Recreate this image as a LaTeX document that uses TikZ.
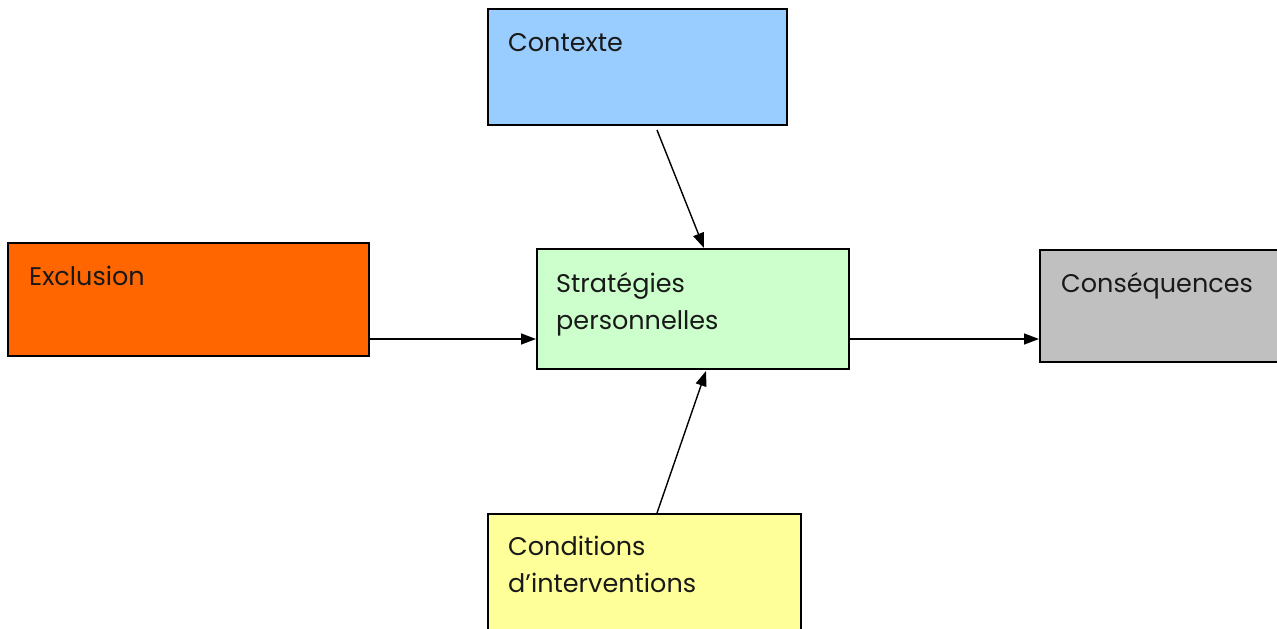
\documentclass[tikz,border=0pt]{standalone}
\usepackage{fontspec}
\setmainfont{Poppins}
\usetikzlibrary{arrows.meta,positioning}
\definecolor{cblue}{HTML}{99CCFF}
\definecolor{corange}{HTML}{FF6600}
\definecolor{cgreen}{HTML}{CCFFCC}
\definecolor{cgrey}{HTML}{C0C0C0}
\definecolor{cyellow}{HTML}{FFFF99}
\tikzset{
  box/.style={draw=black, line width=2pt, rectangle, inner sep=0pt, anchor=north west},
  lbl/.style={anchor=base west, inner sep=0pt, align=left, font=\fontsize{25.5}{37}\selectfont, text=black!90},
  arr/.style={line width=1.4pt, -{Triangle[length=15pt,width=11pt]}}
}
\begin{document}
\begin{tikzpicture}[x=1pt,y=-1pt]
\clip (0,0) rectangle (1277,629);
\fill[white] (0,0) rectangle (1277,629);
% boxes
\node[box, fill=cblue, minimum width=299pt, minimum height=116pt] (ctx) at (487,8) {};
\node[box, fill=corange, minimum width=361pt, minimum height=113pt] (excl) at (7,242) {};
\node[box, fill=cgreen, minimum width=312pt, minimum height=120pt] (strat) at (536,248) {};
\node[box, fill=cgrey, minimum width=260pt, minimum height=112pt] (cons) at (1039,249) {};
\node[box, fill=cyellow, minimum width=313pt, minimum height=140pt] (cond) at (487,513) {};
% labels
\node[lbl] (ctxT) at (508,51) {Contexte};
\node[lbl] (exclT) at (29,285) {Exclusion};
\node[lbl] (stratT) at (556,329) {Stratégies\\personnelles};
\node[lbl] (consT) at (1061,292) {Conséquences};
\node[lbl] (condT) at (508,592) {Conditions\\d’interventions};
% arrows
\draw[arr] ([xshift=19.5pt,yshift=-4pt]ctx.south) -- ([xshift=11pt]strat.north);
\draw[arr] ([yshift=-39.5pt]excl.east) -- ([yshift=-30pt]strat.west);
\draw[arr] ([yshift=-30pt]strat.east) -- ([yshift=-33pt]cons.west);
\draw[arr] ([xshift=12.5pt]cond.north) -- ([xshift=13pt,yshift=-1pt]strat.south);
\end{tikzpicture}
\end{document}
